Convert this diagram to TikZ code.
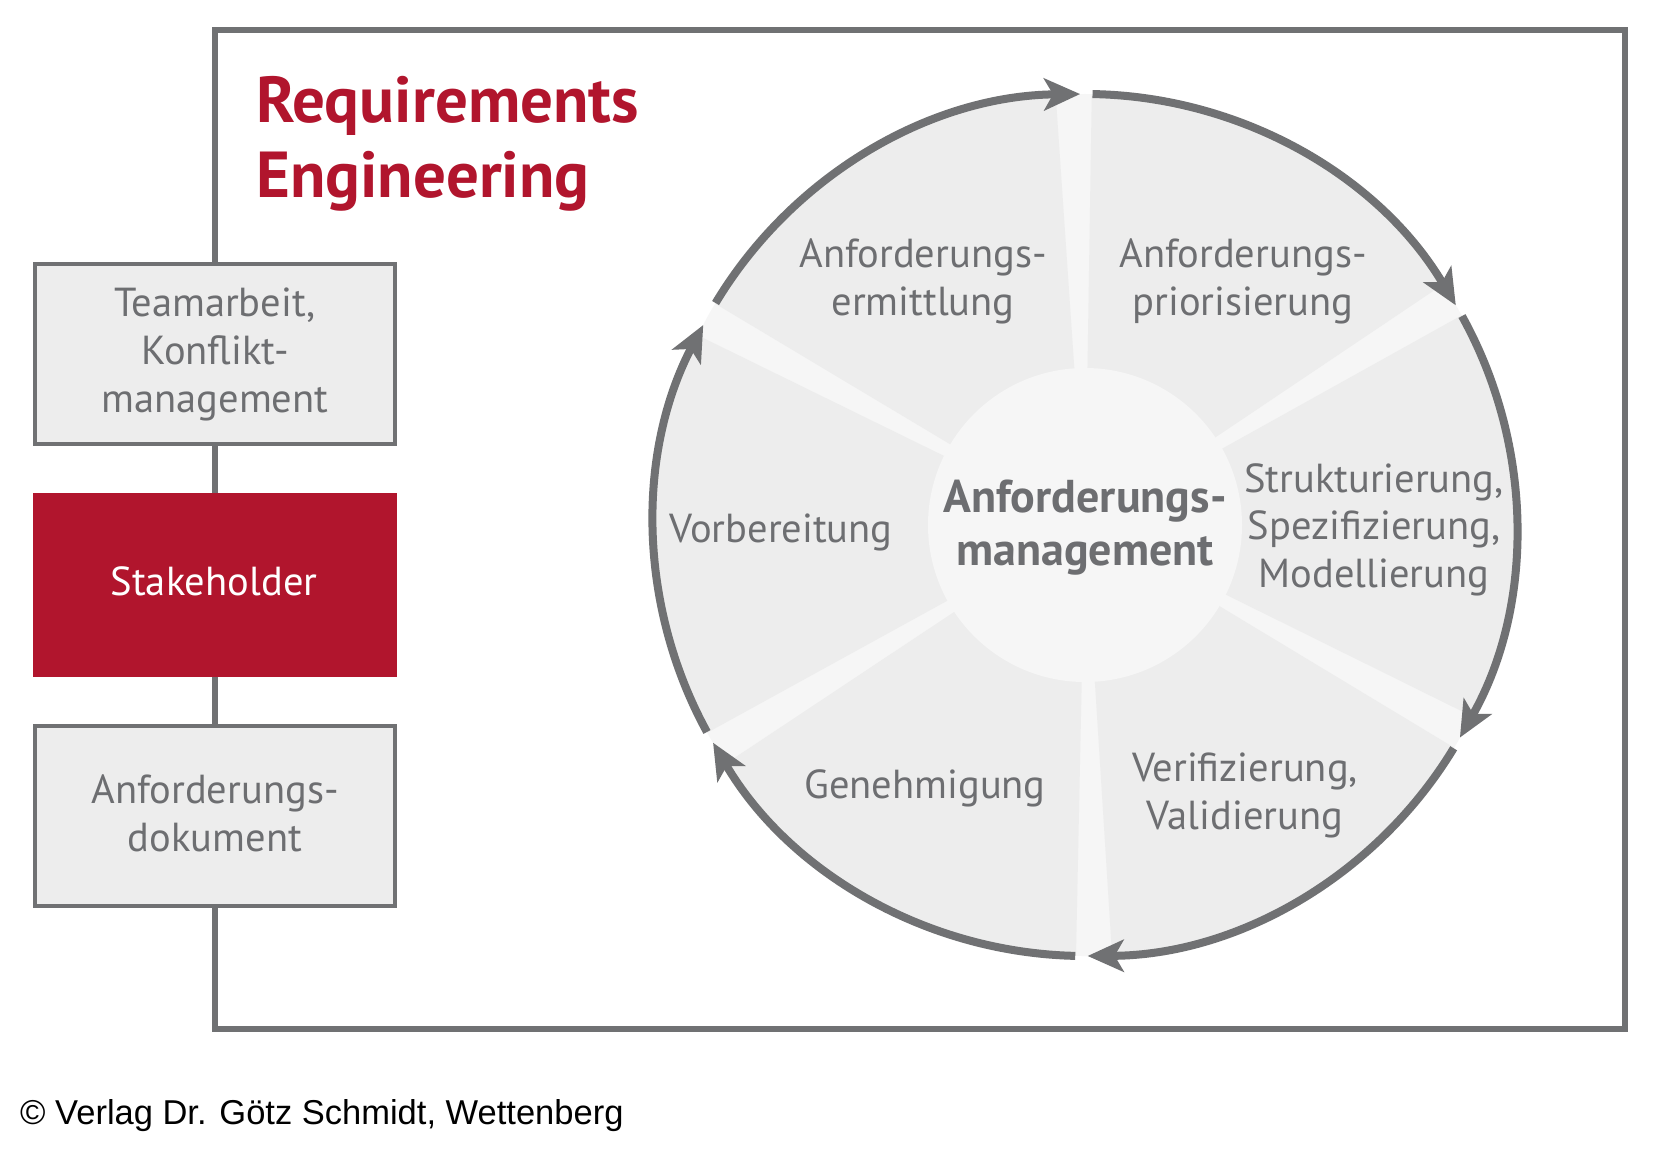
\documentclass[tikz,border=0pt]{standalone}
\usepackage{fontspec}
\setmainfont{PT Sans}
\newfontfamily\arialfont{Liberation Sans}
\usetikzlibrary{arrows.meta}
\definecolor{ringgray}{HTML}{707173}
\definecolor{txtgray}{HTML}{6D6E71}
\definecolor{segfill}{HTML}{EDEDED}
\definecolor{gapfill}{HTML}{F6F6F6}
\definecolor{rered}{HTML}{B1152D}
\newcommand{\mlines}[1]{\begin{tabular}[t]{@{}c@{}}#1\end{tabular}}
\newcommand{\llines}[1]{\begin{tabular}[t]{@{}l@{}}#1\end{tabular}}
\begin{document}
\begin{tikzpicture}[x=1bp,y=1bp,
  frameline/.style={draw=ringgray,line width=6bp},
  sidebox/.style={draw=ringgray,line width=4bp,fill=segfill,minimum width=360bp,minimum height=180bp,inner sep=0pt},
  redbox/.style={fill=rered,minimum width=364bp,minimum height=184bp,inner sep=0pt},
  lbl/.style={text=txtgray,font=\fontsize{40.5bp}{48bp}\selectfont,inner sep=0pt,anchor=base},
  ring/.style={draw=ringgray,line width=8bp},
  ringarrow/.style={-{Stealth[length=36bp,width=32bp,inset=9bp]}}
]
\useasboundingbox[fill=white] (0,0) rectangle (1655,-1153);

% left boxes
\node[sidebox] (box1) at (215,-354) {};
\node[redbox] (red) at (215,-585) {};
\node[sidebox] (box3) at (215,-816) {};

% frame and connectors
\coordinate (ftl) at (215,-30);
\coordinate (ftr) at (1625,-30);
\coordinate (fbr) at (1625,-1029);
\coordinate (fbl) at (215,-1029);
\draw[frameline] (box1.north) -- (ftl) -- (ftr) -- (fbr) -- (fbl) -- (box3.south);
\draw[frameline] (box1.south) -- (red.north);
\draw[frameline] (red.south) -- (box3.north);

\node[lbl] (t1) at (215,-316) {\mlines{Teamarbeit,\\Konflikt-\\management}};
\node[lbl,text=white] (t2) at (214,-595) {Stakeholder};
\node[lbl] (t3) at (215,-803) {\mlines{Anforderungs-\\dokument}};

% title
\node[text=rered,font=\fontsize{65bp}{75bp}\selectfont\bfseries,inner sep=0pt,anchor=base west] (title) at (256,-122) {\llines{Requirements\\Engineering}};

% pie
\begin{scope}[shift={(1085,-525)}]
  \fill[gapfill] (0,0) circle[radius=431bp];
  \foreach \a/\b in {149.1/93.9, 89.1/33.9, 29.1/-26.3, -31.1/-86.4, -91.2/-146.4, -151.2/-206.1}
    \fill[segfill] (0,0) -- (\a:431bp) arc[start angle=\a,end angle=\b,radius=431bp] -- cycle;
  \fill[gapfill] (0,0) circle[radius=157bp];
  \foreach \a/\b in {149.0/90.65, 89.0/30.65, 29.0/-29.55, -31.2/-89.65, -91.3/-149.65, -151.3/-207.65}
    \draw[ring,ringarrow] (\a:431bp) arc[start angle=\a,end angle=\b,radius=431bp];
\end{scope}

% labels
\node[lbl,font=\fontsize{46bp}{53bp}\selectfont\bfseries] (center) at (1085,-512) {\mlines{Anforderungs-\\management}};
\node[lbl] (s1) at (923,-267) {\mlines{Anforderungs-\\ermittlung}};
\node[lbl] (s2) at (1243,-267) {\mlines{Anforderungs-\\priorisierung}};
\node[lbl,font=\fontsize{40.5bp}{47.5bp}\selectfont] (s3) at (1374,-492) {\mlines{Strukturierung,\\Spezifizierung,\\Modellierung}};
\node[lbl] (s4) at (1245,-781) {\mlines{Verifizierung,\\Validierung}};
\node[lbl] (s5) at (925,-798) {Genehmigung};
\node[lbl] (s6) at (781,-542) {Vorbereitung};

% copyright
\node[inner sep=0pt,anchor=base west,font=\arialfont\fontsize{34.5bp}{40bp}\selectfont] (copy) at (20,-1124) {© Verlag Dr. Götz Schmidt, Wettenberg};
\end{tikzpicture}
\end{document}
